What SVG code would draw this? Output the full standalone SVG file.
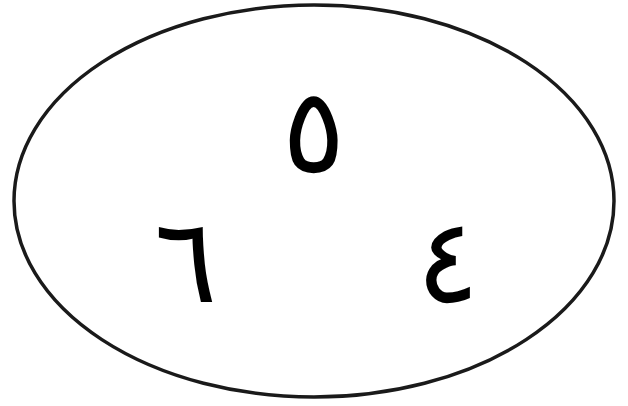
<svg xmlns="http://www.w3.org/2000/svg" width="628" height="406" viewBox="0 0 628 406">
<style>
.d{font-family:"Liberation Sans",sans-serif;font-size:118px;fill:#000;text-anchor:middle}
</style>
<rect width="628" height="406" fill="#fff"/>
<g id="ellipse"><ellipse cx="314" cy="201" rx="300" ry="196" fill="none" stroke="#1a1a1a" stroke-width="3.5"/></g>
<g id="n5"><text class="d" x="313" y="172">٥</text></g>
<g id="n6"><text class="d" x="185" y="302">٦</text></g>
<g id="n4"><text class="d" x="447" y="302">٤</text></g>
</svg>
